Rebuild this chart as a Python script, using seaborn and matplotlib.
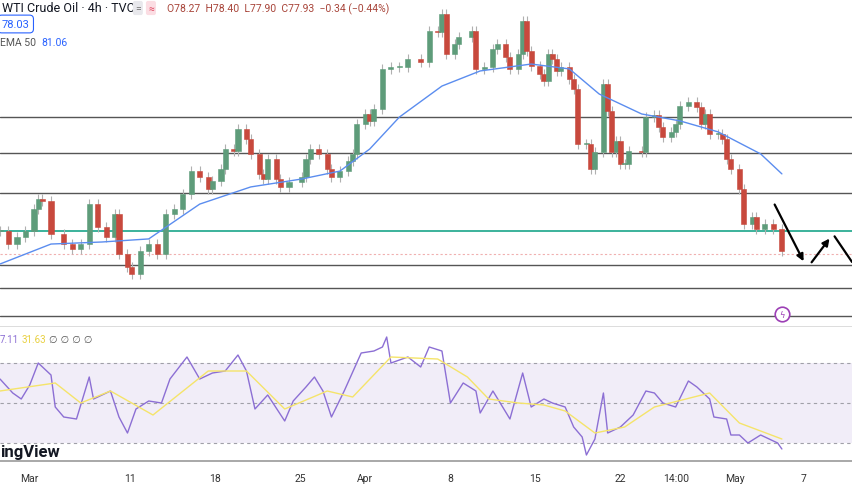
import numpy as np
import pandas as pd
import matplotlib
matplotlib.use("Agg")
import matplotlib.pyplot as plt
import seaborn as sns

# 4h bar index and close price
bar_idx = [0, 2, 4, 6, 8, 9, 10, 12, 15, 17, 19, 21, 23, 25, 27, 28, 30, 31, 33, 35,
           37, 39, 41, 43, 45, 47, 49, 50, 52, 53, 55, 56, 58, 59, 61, 62, 63, 65, 66, 68,
           71, 72, 73, 75, 77, 78, 80, 82, 83, 84, 86, 87, 88, 90, 92, 94, 96, 99, 101, 103,
           104, 105, 107, 108, 111, 112, 114, 116, 117, 119, 120, 122, 123, 124, 125, 127, 128, 129, 130, 131,
           132, 134, 135, 136, 138, 139, 140, 142, 143, 144, 145, 146, 147, 148, 151, 152, 154, 155, 156, 158,
           159, 160, 162, 164, 165, 166, 167, 169, 170, 171, 172, 174, 175, 177, 178, 180, 182, 184]
closes = [78.83, 78.32, 78.59, 78.83, 79.69, 80.08, 80.00, 78.71, 78.32, 78.13, 78.32, 79.88, 78.98, 78.59, 79.49, 77.93, 77.42, 77.15, 78.05, 78.32,
          77.93, 79.49, 79.69, 80.27, 81.17, 80.94, 80.47, 80.78, 81.25, 82.03, 81.95, 82.81, 82.42, 81.84, 81.06, 80.86, 81.64, 80.86, 80.55, 80.74,
          80.94, 81.64, 82.03, 81.84, 81.25, 80.94, 81.17, 81.56, 81.84, 83.01, 83.40, 83.13, 83.59, 85.16, 85.23, 85.23, 85.55, 85.43, 86.64, 86.60,
          87.31, 85.74, 86.13, 86.41, 86.64, 85.16, 85.23, 85.94, 86.13, 85.63, 85.16, 85.74, 87.03, 85.86, 85.27, 84.96, 84.69, 85.74, 85.55, 85.08,
          85.23, 84.77, 84.38, 82.23, 82.23, 81.25, 81.91, 84.57, 83.52, 81.91, 82.34, 81.45, 81.45, 81.95, 81.91, 83.28, 83.36, 82.89, 82.50, 82.70,
          83.01, 83.71, 83.87, 83.67, 83.01, 83.40, 82.62, 82.62, 82.42, 81.64, 81.25, 80.47, 79.10, 79.38, 78.91, 79.10, 78.91, 78.05]

ema_idx = [0, 12, 24, 35, 47, 59, 71, 80, 87, 94, 104, 113, 125, 134, 141, 151, 160, 169, 179, 184]
ema_vals = [77.54, 78.32, 78.40, 78.52, 79.88, 80.55, 80.86, 81.17, 82.03, 83.28, 84.49, 85.08, 85.35, 85.16, 84.18,
            83.40, 83.13, 82.70, 81.84, 81.06]

rsi_idx = [0, 3, 5, 7, 9, 12, 13, 15, 18, 21, 22, 26, 28, 30, 32, 35, 38, 40, 44, 47,
           50, 53, 56, 58, 60, 63, 67, 69, 72, 74, 76, 78, 81, 85, 88, 90, 91, 92, 96, 99,
           101, 104, 106, 109, 112, 113, 116, 120, 123, 125, 128, 130, 133, 135, 137, 138, 140, 142, 143, 146,
           149, 152, 154, 156, 159, 162, 164, 167, 168, 171, 172, 174, 176, 179, 181, 183, 184]
rsi_vals = [62, 55, 52, 59, 70, 64, 48, 43, 42, 63, 52, 56, 43, 35, 47, 51, 50, 62, 73, 62,
            65, 66, 74, 66, 47, 54, 41, 51, 58, 63, 56, 43, 56, 75, 76, 78, 83, 70, 73, 68,
            78, 76, 50, 60, 56, 45, 56, 42, 65, 48, 52, 50, 48, 38, 33, 24, 32, 55, 35, 38,
            44, 56, 55, 50, 48, 61, 58, 52, 43, 42, 34, 34, 30, 34, 32, 30, 27]
rsi_ma_idx = [0, 13, 19, 26, 36, 49, 58, 67, 77, 83, 92, 103, 110, 115, 122, 128, 133, 140, 147, 154, 167, 174, 184]
rsi_ma_vals = [56, 60, 50, 56, 44, 66, 66, 47, 56, 53, 73, 72, 63, 52, 50, 49, 46, 35, 38, 48, 55, 40, 32]

levels = [83.28, 81.88, 80.31, 77.50, 76.60, 75.50]
green_level = 78.83
last_close = 77.93

tick_idx = [7, 30.6, 50.6, 70.6, 86, 106, 126, 146, 159, 173, 189]
tick_labels = ["Mar", "11", "18", "25", "Apr", "8", "15", "22", "14:00", "May", "7"]

UP = "#5e9c7a"
DOWN = "#c8493d"

sns.set_theme(style="white", font="Roboto")
fig = plt.figure(figsize=(8.52, 4.85), dpi=100)
ax = fig.add_axes([0, 157 / 485, 1, 328 / 485])
ax2 = fig.add_axes([0, 23 / 485, 1, 134 / 485])

xmin, xmax = 0, 200.5

# candles
opens = [closes[0]] + closes[:-1]
for i, o, c in zip(bar_idx, opens, closes):
    col = UP if c >= o else DOWN
    ax.vlines(i, min(o, c) - 0.2, max(o, c) + 0.2, color="#b0b0b0", lw=0.8, zorder=2)
    ax.bar(i, max(abs(c - o), 0.04), bottom=min(o, c), width=1.2, color=col,
           edgecolor=col, lw=0.4, zorder=3)

sns.lineplot(x=ema_idx, y=ema_vals, ax=ax, color="#5b8def", lw=1.0, zorder=4)

for lv in levels:
    ax.axhline(lv, color="#555555", lw=1.0, zorder=1)
ax.axhline(green_level, color="#1aa58a", lw=1.2, zorder=1)
ax.axhline(last_close, color="#f0b0b0", lw=0.8, ls=(0, (2, 2)), zorder=1)

# projected path arrows
arr = dict(arrowstyle="-|>", color="black", lw=1.6, mutation_scale=10)
ax.annotate("", xy=(189.4, 77.55), xytext=(182, 79.96), arrowprops=arr)
ax.annotate("", xy=(195.6, 78.62), xytext=(190.6, 77.52), arrowprops=arr)
ax.plot([196.4, 200.5], [78.62, 77.62], color="black", lw=1.6)

ax.set_xlim(xmin, xmax)
ax.set_ylim(75.08, 87.89)
ax.set_xticks([])
ax.set_yticks([])
for s in ax.spines.values():
    s.set_visible(False)
ax.spines["bottom"].set_visible(True)
ax.spines["bottom"].set_color("#d8d8d8")
ax.set_xlabel("")
ax.set_ylabel("")

ax.scatter([184], [75.58], s=110, facecolors="white", edgecolors="#9c3fb5", lw=1.2, zorder=5)
ax.text(184, 75.58, "ϟ", color="#9c3fb5", fontsize=6, ha="center", va="center", zorder=6,
        fontfamily="DejaVu Sans")

# header texts
fig.text(0.002, 1 - 9 / 485, "WTI Crude Oil · 4h · TVC", fontsize=9, color="#131722", va="center")
fig.text(135 / 852, 1 - 9 / 485, "=", fontsize=7.5, color="#777777", va="center",
         bbox=dict(boxstyle="round,pad=0.2", fc="#e8e8ec", ec="none"))
fig.text(148 / 852, 1 - 9 / 485, "≈", fontsize=7.5, color="#e0405a", va="center",
         bbox=dict(boxstyle="round,pad=0.2", fc="#fbdde3", ec="none"))
fig.text(167 / 852, 1 - 9 / 485, "O78.27  H78.40  L77.90  C77.93  −0.34 (−0.44%)",
         fontsize=7.5, color="#a8453a", va="center")
fig.text(0.002, 1 - 25 / 485, "78.03", fontsize=8, color="#2962ff", va="center",
         bbox=dict(boxstyle="round,pad=0.35", fc="white", ec="#2962ff", lw=0.8))
fig.text(0.0, 1 - 43 / 485, "EMA 50", fontsize=7.5, color="#555555", va="center")
fig.text(0.048, 1 - 43 / 485, "81.06", fontsize=7.5, color="#2962ff", va="center")

# RSI panel
ax2.axhspan(30, 70, color="#7e57c2", alpha=0.1, lw=0)
for lv in (70, 50, 30):
    ax2.axhline(lv, color="#a0a0a8", lw=0.8, ls=(0, (3, 3)))
sns.lineplot(x=rsi_idx, y=rsi_vals, ax=ax2, color="#8c6fd4", lw=1.0)
sns.lineplot(x=rsi_ma_idx, y=rsi_ma_vals, ax=ax2, color="#f5e46a", lw=1.0)
ax2.set_xlim(xmin, xmax)
ax2.set_ylim(21, 88)
ax2.set_yticks([])
ax2.set_xticks(tick_idx)
ax2.set_xticklabels(tick_labels, fontsize=7.5, color="#333333")
ax2.tick_params(axis="x", length=0, pad=9)
for s in ax2.spines.values():
    s.set_visible(False)
ax2.spines["bottom"].set_visible(True)
ax2.spines["bottom"].set_color("#999999")
ax2.spines["bottom"].set_linewidth(1.2)
ax2.set_xlabel("")
ax2.set_ylabel("")

fig.text(0.0, 1 - 340 / 485, "7.11", fontsize=7, color="#8c6fd4", va="center")
fig.text(0.025, 1 - 340 / 485, "31.63", fontsize=7, color="#e8d040", va="center")
fig.text(0.058, 1 - 340 / 485, "∅ ∅ ∅ ∅", fontsize=7, color="#555555", va="center",
         fontfamily="DejaVu Sans")
fig.text(0.0, 1 - 453 / 485, "ingView", fontsize=12, fontweight="bold", color="#131722", va="center")

fig.savefig("out.png", dpi=100)
